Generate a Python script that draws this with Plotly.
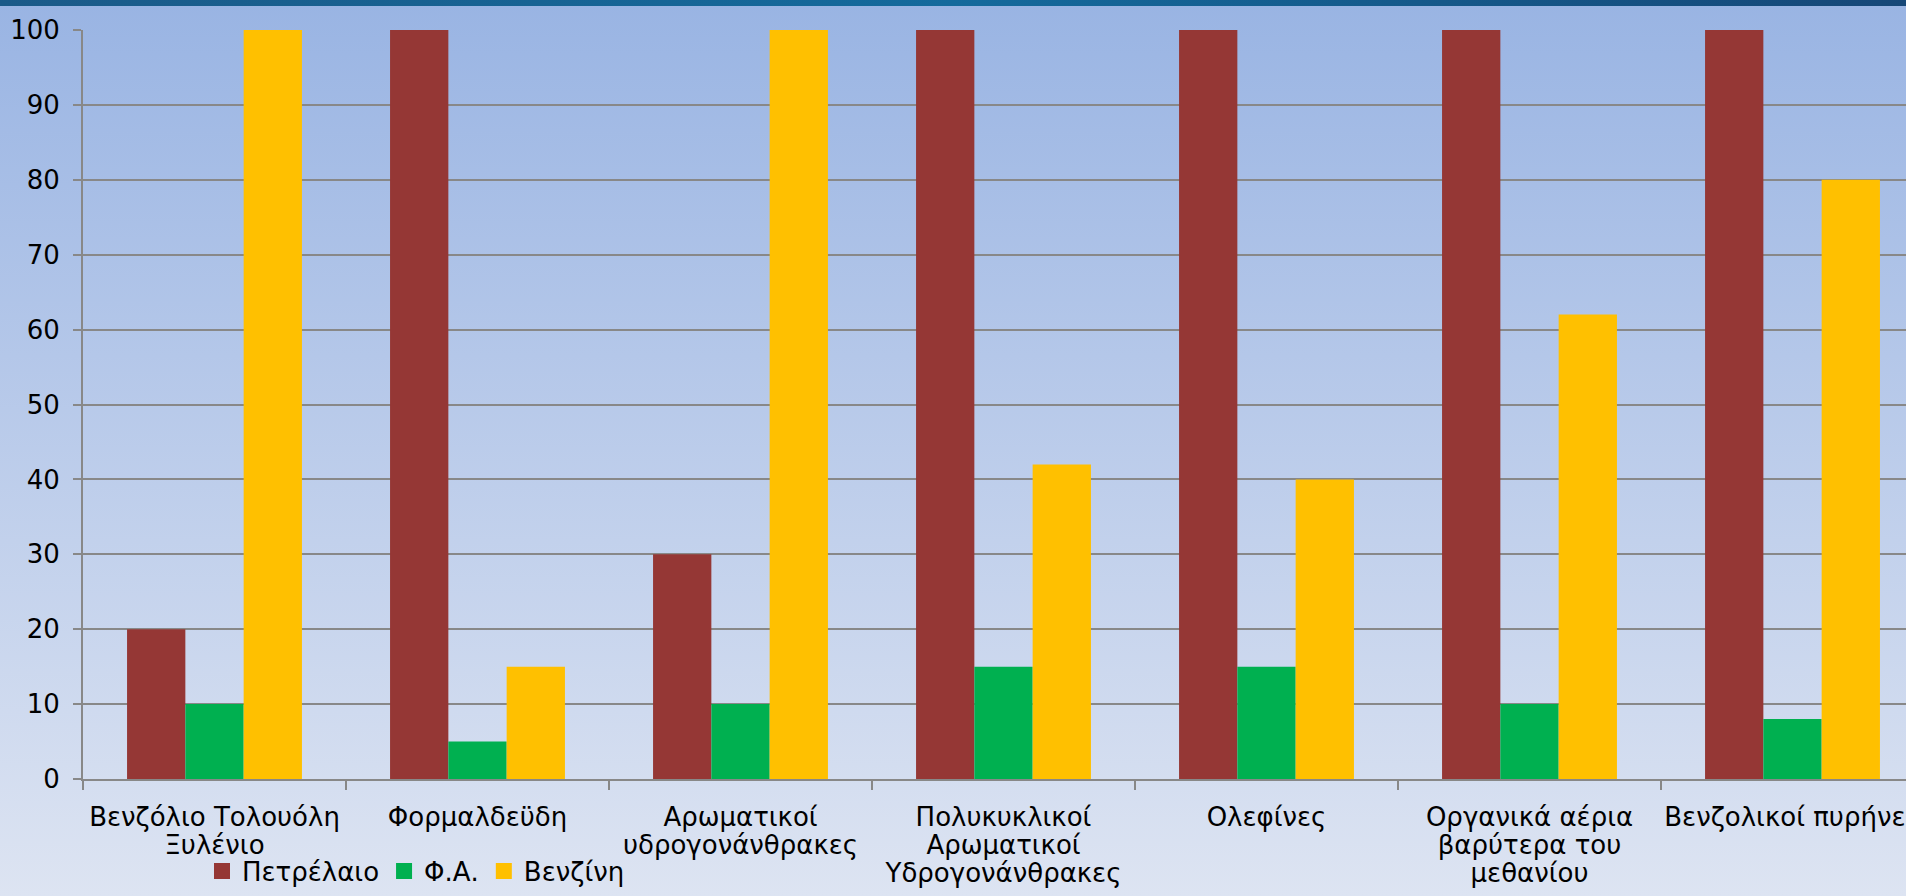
import base64
import plotly.graph_objects as go

# ---- data ----
category_lines = [
    ["Βενζόλιο Τολουόλη", "Ξυλένιο"],
    ["Φορμαλδεϋδη"],
    ["Αρωματικοί", "υδρογονάνθρακες"],
    ["Πολυκυκλικοί", "Αρωματικοί", "Υδρογονάνθρακες"],
    ["Ολεφίνες"],
    ["Οργανικά αέρια", "βαρύτερα του", "μεθανίου"],
    ["Βενζολικοί πυρήνες"],
]
categories = [" ".join(c) for c in category_lines]
petrelaio = [20, 100, 30, 100, 100, 100, 100]
fa = [10, 5, 10, 15, 15, 10, 8]
venzini = [100, 15, 100, 42, 40, 62, 80]
series_names = ["Πετρέλαιο", "Φ.Α.", "Βενζίνη"]
y_ticks = [0, 10, 20, 30, 40, 50, 60, 70, 80, 90, 100]

# ---- styling ----
W, H = 1906, 896
L, R, T, B = 83, 0, 30, 117
FONT = "DejaVu Sans"
FS = 26
GRID = "#888888"
colors = ["#953735", "#00B050", "#FFC000"]

svg = f"""<svg xmlns='http://www.w3.org/2000/svg' width='{W}' height='{H}' preserveAspectRatio='none'>
<defs>
<linearGradient id='g' x1='0' y1='0' x2='0' y2='1'>
<stop offset='0' stop-color='#99B4E3'/>
<stop offset='1' stop-color='#DDE4F2'/>
</linearGradient>
<linearGradient id='h' x1='0' y1='0' x2='1' y2='0'>
<stop offset='0' stop-color='#1B5A88'/>
<stop offset='0.5' stop-color='#146A9C'/>
<stop offset='1' stop-color='#164777'/>
</linearGradient>
</defs>
<rect x='0' y='0' width='{W}' height='{H}' fill='url(#g)'/>
<rect x='0' y='0' width='{W}' height='6' fill='url(#h)'/>
</svg>"""
bg_uri = "data:image/svg+xml;base64," + base64.b64encode(svg.encode("utf-8")).decode("ascii")

plot_w = W - L - R
plot_h = H - T - B
cat_px = 263.0
x_max = -0.5 + plot_w / cat_px

tick_text = [
    "<br>".join(f"<span style='font-size:{FS}px'>{ln}</span>" for ln in c)
    for c in category_lines
]

fig = go.Figure()
for name, vals, col in zip(series_names, [petrelaio, fa, venzini], colors):
    fig.add_trace(go.Bar(
        name=name, x=categories, y=vals,
        marker=dict(color=col, line=dict(width=0)),
        showlegend=False,
    ))
# legend keys (no data points)
for name, col in zip(series_names, colors):
    fig.add_trace(go.Scatter(
        name=name, x=[None], y=[None], mode="markers",
        marker=dict(symbol="square", size=16, color=col),
        showlegend=True,
    ))

fig.update_layout(
    template="none",
    width=W, height=H, autosize=False,
    margin=dict(l=L, r=R, t=T, b=B, pad=0),
    paper_bgcolor="#DDE4F2",
    plot_bgcolor="rgba(0,0,0,0)",
    font=dict(family=FONT, size=FS, color="#000000"),
    barmode="group", bargap=0.335, bargroupgap=0,
    showlegend=True,
    legend=dict(
        orientation="h",
        x=(416 - L) / plot_w, xanchor="center",
        y=(H - B - 871) / plot_h, yanchor="middle",
        bgcolor="rgba(0,0,0,0)",
        font=dict(family=FONT, size=FS, color="#000000"),
        itemwidth=30, tracegroupgap=0,
    ),
    images=[dict(
        source=bg_uri, xref="paper", yref="paper",
        x=-L / plot_w, y=1 + T / plot_h,
        sizex=W / plot_w, sizey=H / plot_h,
        xanchor="left", yanchor="top",
        sizing="stretch", layer="below",
    )],
    xaxis=dict(
        type="category", range=[-0.5, x_max],
        categoryorder="array", categoryarray=categories,
        tickmode="array", tickvals=categories, ticktext=tick_text,
        tickson="boundaries", ticks="outside", ticklen=9, tickwidth=2,
        tickcolor=GRID, showline=True, linecolor=GRID, linewidth=2,
        showgrid=False, zeroline=False, automargin=False,
        ticklabelstandoff=19,
        tickfont=dict(family=FONT, size=21.5, color="#000000"),
    ),
    yaxis=dict(
        range=[0, 100], tickmode="array", tickvals=y_ticks,
        ticktext=[str(v) for v in y_ticks],
        ticks="outside", ticklen=8, tickwidth=2, tickcolor=GRID,
        showline=True, linecolor=GRID, linewidth=2,
        showgrid=True, gridcolor=GRID, gridwidth=2,
        zeroline=False, automargin=False,
        ticklabelstandoff=8,
        tickfont=dict(family=FONT, size=FS, color="#000000"),
    ),
)

fig.write_html(
    "out.html",
    config={"displayModeBar": False},
    post_script="document.body.style.margin='0';document.body.style.overflow='hidden';",
)
